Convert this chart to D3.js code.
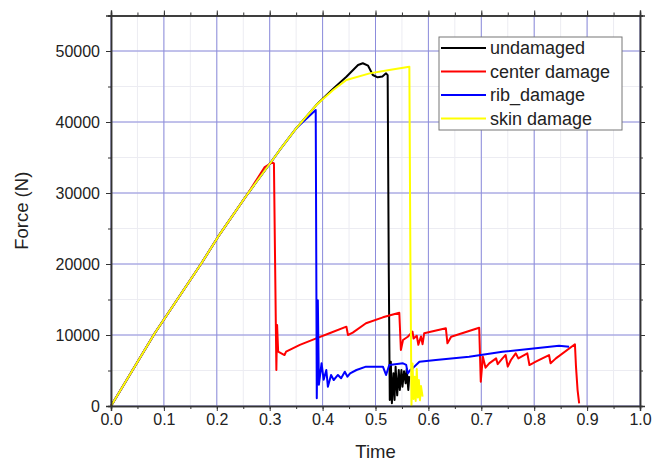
<!DOCTYPE html>
<html>
<head>
<meta charset="utf-8">
<script src="https://cdn.jsdelivr.net/npm/d3@7"></script>
<style>
	body { margin: 0; background: #ffffff; }
	text { font-family: Arial, "Liberation Sans", sans-serif; fill: #222; }
</style>
</head>
<body>
<script>
var xTicks = [0, 0.1, 0.2, 0.3, 0.4, 0.5, 0.6, 0.7, 0.8, 0.9, 1.0];
var yTicks = [0, 10000, 20000, 30000, 40000, 50000];
var seriesNames = ["undamaged", "center damage", "rib_damage", "skin damage"];
var seriesColors = ["#000000", "#ff0000", "#0000ff", "#ffff00"];

// [time, force]
var undamaged = [
	[0, 0], [0.083, 10280], [0.171, 20100], [0.2025, 23850], [0.259, 29960], [0.303, 34400],
	[0.319, 36060], [0.35, 39100], [0.388, 42390], [0.42, 44700], [0.445, 46380], [0.467, 48030],
	[0.476, 48270], [0.486, 47930], [0.495, 46620], [0.504, 46290], [0.513, 46400], [0.52, 46850],
	[0.523, 46600], [0.525, 20000], [0.527, 850], [0.529, 6240], [0.531, 400], [0.534, 4600],
	[0.536, 850], [0.538, 5540], [0.541, 1500], [0.544, 5070], [0.546, 2250], [0.549, 5070],
	[0.551, 2720], [0.554, 4900], [0.557, 3190], [0.559, 5200], [0.562, 2250], [0.564, 4200]
];
var centerDamage = [
	[0, 0], [0.083, 10280], [0.171, 20100], [0.2025, 23850], [0.259, 29960], [0.29, 33600],
	[0.305, 34300], [0.308, 34180], [0.3126, 5070], [0.314, 11400], [0.316, 7650], [0.328, 7180],
	[0.331, 7650], [0.357, 8600], [0.388, 9530], [0.413, 10240], [0.445, 11170], [0.448, 10000],
	[0.457, 10330], [0.482, 11650], [0.514, 12490], [0.545, 13140], [0.548, 7890], [0.552, 9300],
	[0.561, 9760], [0.570, 10470], [0.572, 9500], [0.578, 9900], [0.581, 8630], [0.586, 9800],
	[0.589, 8700], [0.592, 10240], [0.633, 10940], [0.636, 8830], [0.643, 9760], [0.696, 11030],
	[0.699, 3430], [0.703, 6950], [0.708, 5400], [0.715, 6010], [0.728, 6710], [0.731, 5900],
	[0.740, 6710], [0.746, 7180], [0.750, 5540], [0.756, 6480], [0.765, 7420], [0.770, 6710],
	[0.787, 7420], [0.791, 5770], [0.803, 6240], [0.828, 7180], [0.831, 6010], [0.841, 6710],
	[0.877, 8690], [0.879, 5540], [0.882, 2250], [0.885, 380]
];
var ribDamage = [
	[0, 0], [0.083, 10280], [0.171, 20100], [0.2025, 23850], [0.259, 29960], [0.303, 34400],
	[0.319, 36060], [0.35, 39100], [0.387, 41690], [0.389, 1080], [0.391, 14900], [0.393, 3000],
	[0.398, 6010], [0.402, 3700], [0.407, 5070], [0.410, 2720], [0.416, 4370], [0.421, 3660],
	[0.429, 4370], [0.435, 3900], [0.442, 4830], [0.447, 4130], [0.452, 4600], [0.464, 5070],
	[0.482, 5540], [0.514, 5540], [0.520, 4370], [0.526, 5770], [0.552, 6010], [0.558, 5800],
	[0.561, 4600], [0.566, 5100], [0.570, 5300], [0.583, 6240], [0.614, 6480], [0.677, 6950],
	[0.740, 7650], [0.803, 8120], [0.847, 8500], [0.866, 8350]
];
var skinDamage = [
	[0, 0], [0.083, 10280], [0.171, 20100], [0.2025, 23850], [0.259, 29960], [0.303, 34400],
	[0.319, 36060], [0.35, 39100], [0.388, 42390], [0.42, 44500], [0.445, 45920], [0.489, 46850],
	[0.526, 47320], [0.564, 47790], [0.566, 20000], [0.568, 150], [0.570, 6000], [0.572, 1000],
	[0.574, 4130], [0.576, 700], [0.578, 5200], [0.580, 1200], [0.582, 3660], [0.584, 800],
	[0.586, 2800], [0.589, 1310]
];
var allSeries = [undamaged, centerDamage, ribDamage, skinDamage];

var width = 653, height = 465;
var margin = {left: 111, right: 13, top: 15.5, bottom: 59};
var svg = d3.select("body").append("svg")
	.attr("width", width)
	.attr("height", height);

var x = d3.scaleLinear().domain([0, 1]).range([margin.left, width - margin.right]);
var y = d3.scaleLinear().domain([0, 55000]).range([height - margin.bottom, margin.top]);

var minorX = d3.range(0, 21).map(function (v) { return v * 0.05; });
var minorY = d3.range(0, 12).map(function (v) { return v * 5000; });

// faint minor grid
svg.append("g").selectAll("line.mx")
	.data(minorX)
	.enter().append("line")
	.attr("x1", function (d) { return x(d); })
	.attr("x2", function (d) { return x(d); })
	.attr("y1", y(0)).attr("y2", y(55000))
	.attr("stroke", "#ececf2").attr("stroke-width", 1);
svg.append("g").selectAll("line.my")
	.data(minorY)
	.enter().append("line")
	.attr("y1", function (d) { return y(d); })
	.attr("y2", function (d) { return y(d); })
	.attr("x1", x(0)).attr("x2", x(1))
	.attr("stroke", "#ececf2").attr("stroke-width", 1);

// major grid
svg.append("g").selectAll("line")
	.data(xTicks)
	.enter().append("line")
	.attr("x1", function (d) { return x(d); })
	.attr("x2", function (d) { return x(d); })
	.attr("y1", y(0)).attr("y2", y(55000))
	.attr("stroke", "#8c8cdc").attr("stroke-width", 1);
svg.append("g").selectAll("line")
	.data(yTicks)
	.enter().append("line")
	.attr("y1", function (d) { return y(d); })
	.attr("y2", function (d) { return y(d); })
	.attr("x1", x(0)).attr("x2", x(1))
	.attr("stroke", "#8c8cdc").attr("stroke-width", 1);

// curves
var line = d3.line()
	.x(function (d) { return x(d[0]); })
	.y(function (d) { return y(d[1]); });
allSeries.forEach(function (s, i) {
	svg.append("path")
		.datum(s)
		.attr("d", line)
		.attr("fill", "none")
		.attr("stroke", seriesColors[i])
		.attr("stroke-width", 2)
		.attr("stroke-linejoin", "round");
});

// axes
function styleAxis(g) {
	g.selectAll("path, line").attr("stroke", "#333");
	g.select(".domain").attr("stroke-width", 1.5);
	g.selectAll("text").style("font-size", "16px").attr("fill", "#333");
}
var bottomMinor = d3.axisBottom(x).tickValues(minorX).tickSize(3).tickFormat("");
var leftMinor = d3.axisLeft(y).tickValues(minorY).tickSize(3).tickFormat("");
svg.append("g").attr("transform", "translate(0," + y(0) + ")").call(bottomMinor).call(styleAxis);
svg.append("g").attr("transform", "translate(" + x(0) + ",0)").call(leftMinor).call(styleAxis);
svg.append("g").attr("transform", "translate(0," + y(55000) + ")")
	.call(d3.axisTop(x).tickValues(minorX).tickSize(3).tickFormat("")).call(styleAxis);
svg.append("g").attr("transform", "translate(" + x(1) + ",0)")
	.call(d3.axisRight(y).tickValues(minorY).tickSize(3).tickFormat("")).call(styleAxis);

svg.append("g").attr("transform", "translate(0," + y(0) + ")")
	.call(d3.axisBottom(x).tickValues(xTicks).tickSize(5).tickPadding(3).tickFormat(d3.format(".1f")))
	.call(styleAxis);
svg.append("g").attr("transform", "translate(" + x(0) + ",0)")
	.call(d3.axisLeft(y).tickValues(yTicks).tickSize(5).tickPadding(6).tickFormat(d3.format("d")))
	.call(styleAxis);
svg.append("g").attr("transform", "translate(0," + y(55000) + ")")
	.call(d3.axisTop(x).tickValues(xTicks).tickSize(5).tickFormat(""))
	.call(styleAxis);
svg.append("g").attr("transform", "translate(" + x(1) + ",0)")
	.call(d3.axisRight(y).tickValues(yTicks).tickSize(5).tickFormat(""))
	.call(styleAxis);

// axis titles
svg.append("text")
	.attr("x", (x(0) + x(1)) / 2)
	.attr("y", 458)
	.attr("text-anchor", "middle")
	.style("font-size", "18.5px")
	.text("Time");
svg.append("text")
	.attr("transform", "translate(28," + y(27500) + ") rotate(-90)")
	.attr("text-anchor", "middle")
	.style("font-size", "18.5px")
	.text("Force (N)");

// legend
var legend = svg.append("g").attr("transform", "translate(439,37)");
legend.append("rect")
	.attr("width", 183).attr("height", 93)
	.attr("fill", "#ffffff")
	.attr("stroke", "#777").attr("stroke-width", 1);
seriesNames.forEach(function (name, i) {
	var row = legend.append("g").attr("transform", "translate(0," + (11 + i * 23.5) + ")");
	row.append("line")
		.attr("x1", 2).attr("x2", 47)
		.attr("stroke", seriesColors[i]).attr("stroke-width", 2);
	row.append("text")
		.attr("x", 51).attr("y", 6)
		.style("font-size", "18px")
		.text(name);
});
</script>
</body>
</html>
